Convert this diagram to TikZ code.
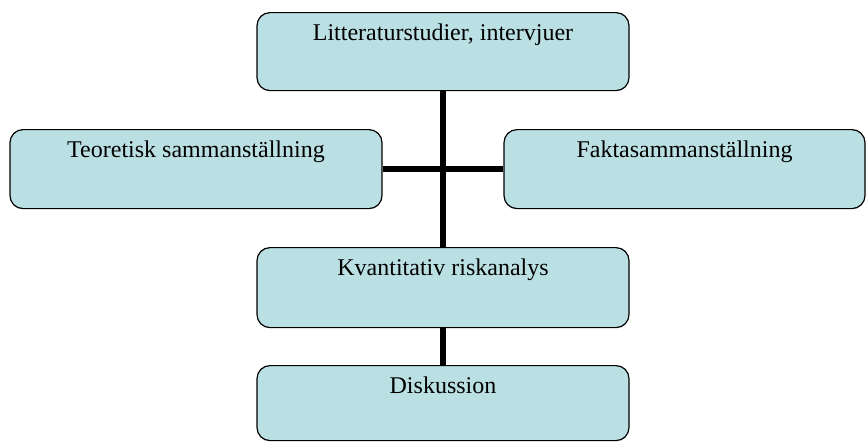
\documentclass[tikz,border=0pt]{standalone}
\usepackage{fontspec}
\setmainfont{Liberation Serif}
\definecolor{boxcyan}{RGB}{187,224,227}
\begin{document}
\begin{tikzpicture}[x=0.5pt,y=-0.5pt,
  stepbox/.style={draw, line width=0.6pt, rounded corners=6.5pt, fill=boxcyan,
    anchor=north, inner sep=0pt, text height=14pt, font=\fontsize{12}{14}\selectfont},
  link/.style={draw, line width=3pt}]
\useasboundingbox (0,0) rectangle (866,441);

\node[stepbox, minimum width=186pt, text depth=25pt] (lit) at (443,12) {Litteraturstudier, intervjuer};
\node[stepbox, minimum width=186pt, text depth=25.5pt] (teo) at (196,129) {Teoretisk sammanställning};
\node[stepbox, minimum width=180.5pt, text depth=25.5pt] (fakta) at (684.5,129) {Faktasammanställning};
\node[stepbox, minimum width=186pt, text depth=26pt] (kvant) at (443,247) {Kvantitativ riskanalys};
\node[stepbox, minimum width=186pt, text depth=23.5pt] (disk) at (443,365) {Diskussion};

\path[link] (lit) -- (kvant);
\path[link] (teo) -- (fakta);
\path[link] (kvant) -- (disk);
\end{tikzpicture}
\end{document}
